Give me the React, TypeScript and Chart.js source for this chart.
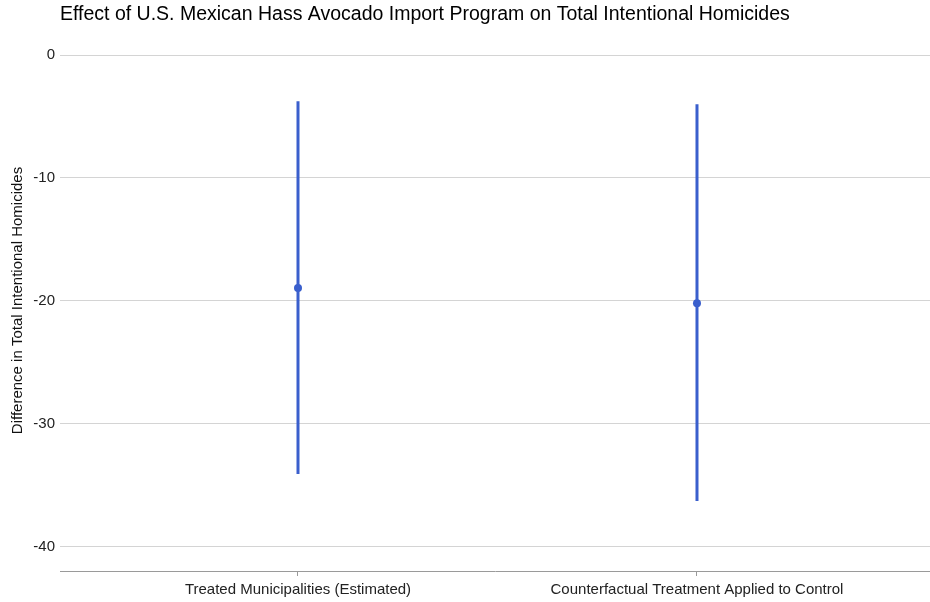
import React, { useEffect, useRef } from "react";
import { Chart, registerables } from "chart.js";

Chart.register(...registerables);

// Estimates with their confidence intervals
const CATEGORIES = [
  "Treated Municipalities (Estimated)",
  "Counterfactual Treatment Applied to Control",
];
const ESTIMATES = [-18.97, -20.2];
const CI_LOW = [-34.1, -36.3];
const CI_HIGH = [-3.75, -4.0];
const Y_TICKS = [0, -10, -20, -30, -40];

const TITLE =
  "Effect of U.S. Mexican Hass Avocado Import Program on Total Intentional Homicides";
const Y_TITLE = "Difference in Total Intentional Homicides";

const FONT = "'Liberation Sans', Arial, sans-serif";
const BLUE = "#3a5fcd";

const titlePlugin = {
  id: "plotTitle",
  afterDraw(chart: any) {
    const ctx = chart.ctx;
    ctx.save();
    ctx.font = `19.5px ${FONT}`;
    ctx.fillStyle = "#000000";
    ctx.textAlign = "left";
    ctx.textBaseline = "alphabetic";
    ctx.fillText(TITLE, chart.chartArea.left, 20);
    ctx.restore();
  },
};

export default function App() {
  const ref = useRef<HTMLCanvasElement | null>(null);

  useEffect(() => {
    document.body.style.margin = "0";
    const canvas = ref.current;
    if (!canvas) return;

    const barSets = CATEGORIES.map((_, i) => ({
      type: "line" as const,
      data: [
        { x: i + 1, y: CI_LOW[i] },
        { x: i + 1, y: CI_HIGH[i] },
      ],
      showLine: true,
      borderColor: BLUE,
      borderWidth: 3,
      borderCapStyle: "butt" as const,
      pointRadius: 0,
      pointHoverRadius: 0,
    }));

    const chart = new Chart(canvas, {
      type: "scatter",
      data: {
        datasets: [
          ...barSets,
          {
            type: "scatter" as const,
            data: ESTIMATES.map((y, i) => ({ x: i + 1, y })),
            backgroundColor: BLUE,
            borderColor: BLUE,
            pointRadius: 4,
            borderWidth: 0,
          },
        ] as any,
      },
      options: {
        animation: false,
        responsive: false,
        layout: {
          autoPadding: false,
          padding: { top: 30, left: 0, right: 0, bottom: 0 },
        },
        plugins: {
          legend: { display: false },
          tooltip: { enabled: false },
          title: { display: false },
        },
        scales: {
          x: {
            type: "linear",
            min: 0.4035,
            max: 2.584,
            afterBuildTicks: (scale: any) => {
              scale.ticks = CATEGORIES.map((_, i) => ({ value: i + 1 }));
            },
            afterFit: (scale: any) => {
              scale.height = 31;
            },
            ticks: {
              autoSkip: false,
              maxRotation: 0,
              padding: 5,
              color: "#222222",
              font: { family: FONT, size: 15 },
              callback: (v: any) => CATEGORIES[Math.round(Number(v)) - 1] ?? "",
            },
            grid: {
              drawOnChartArea: false,
              drawTicks: true,
              tickLength: 5,
              color: "#9a9a9a",
            },
            border: { display: true, color: "#9a9a9a", width: 1 },
          },
          y: {
            type: "linear",
            min: -42.0,
            max: 2.04,
            afterBuildTicks: (scale: any) => {
              scale.ticks = Y_TICKS.map((value) => ({ value }));
            },
            afterFit: (scale: any) => {
              scale.width = 60;
            },
            ticks: {
              padding: 5,
              color: "#222222",
              font: { family: FONT, size: 15 },
              callback: (v: any) => String(v),
            },
            grid: {
              drawTicks: false,
              color: "#d4d4d4",
              lineWidth: 1,
            },
            border: { display: false },
            title: {
              display: true,
              text: Y_TITLE,
              color: "#111111",
              font: { family: FONT, size: 15 },
              padding: { top: 9, bottom: 0 },
            },
          },
        },
      },
      plugins: [titlePlugin],
    });

    return () => chart.destroy();
  }, []);

  return (
    <div style={{ width: 930, height: 602 }}>
      <canvas ref={ref} width={930} height={602} />
    </div>
  );
}
